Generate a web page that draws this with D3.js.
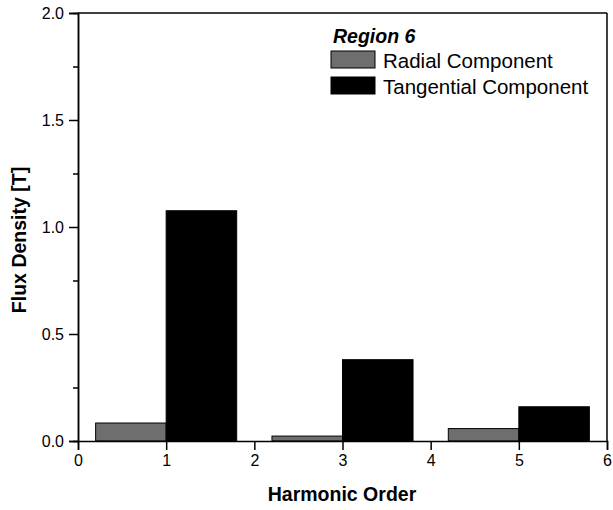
<!DOCTYPE html>
<html>
<head>
<meta charset="utf-8">
<script src="https://cdn.jsdelivr.net/npm/d3@7"></script>
<style>
  body { margin: 0; background: #fff; }
  text { font-family: Arial, "Liberation Sans", sans-serif; }
</style>
</head>
<body>
<div id="chart"></div>
<script>
var harmonics = [1, 3, 5];
var radial = [0.084, 0.023, 0.058];
var tangential = [1.076, 0.380, 0.160];
var xTicks = [0, 1, 2, 3, 4, 5, 6];
var yTicks = [0, 0.5, 1.0, 1.5, 2.0];
var yMinor = [0.25, 0.75, 1.25, 1.75];

var width = 613, height = 510;
var margin = {top: 13, right: 6, bottom: 69, left: 78};
var w = width - margin.left - margin.right,
    h = height - margin.top - margin.bottom;

var svg = d3.select("#chart").append("svg")
    .attr("width", width)
    .attr("height", height);

var g = svg.append("g")
    .attr("transform", "translate(" + margin.left + "," + margin.top + ")");

var x = d3.scaleLinear().domain([0, 6]).range([0, w]);
var y = d3.scaleLinear().domain([0, 2]).range([h, 0]);

var barW = 0.8;

// radial bars sit left of the harmonic, tangential right of it
g.selectAll("rect.radial")
    .data(harmonics)
  .enter().append("rect")
    .attr("class", "radial")
    .attr("x", function(d) { return x(d - barW); })
    .attr("width", function(d) { return x(d) - x(d - barW); })
    .attr("y", function(d, i) { return y(radial[i]); })
    .attr("height", function(d, i) { return y(0) - y(radial[i]); })
    .style("fill", "#6e6e6e")
    .style("stroke", "#000")
    .style("stroke-width", 1);

g.selectAll("rect.tang")
    .data(harmonics)
  .enter().append("rect")
    .attr("class", "tang")
    .attr("x", function(d) { return x(d); })
    .attr("width", function(d) { return x(d + barW) - x(d); })
    .attr("y", function(d, i) { return y(tangential[i]); })
    .attr("height", function(d, i) { return y(0) - y(tangential[i]); })
    .style("fill", "#000")
    .style("stroke", "#000")
    .style("stroke-width", 1);

// axes
var xAxis = g.append("g")
    .attr("transform", "translate(0," + h + ")")
    .call(d3.axisBottom(x).tickValues(xTicks).tickFormat(d3.format("d")).tickSize(9).tickPadding(5));

var yAxis = g.append("g")
    .call(d3.axisLeft(y).tickValues(yTicks).tickFormat(d3.format(".1f")).tickSize(9).tickPadding(5));

g.append("g")
    .call(d3.axisLeft(y).tickValues(yMinor).tickFormat("").tickSize(5));

[xAxis, yAxis].forEach(function(a) {
  a.selectAll("text").style("font-size", "16px").style("fill", "#000");
});
g.selectAll(".domain, .tick line").style("stroke", "#000").style("stroke-width", 1.5);

// frame top and right
g.append("line").attr("x1", 0).attr("x2", w).attr("y1", 0).attr("y2", 0)
    .style("stroke", "#000").style("stroke-width", 1.5);
g.append("line").attr("x1", w).attr("x2", w).attr("y1", 0).attr("y2", h)
    .style("stroke", "#000").style("stroke-width", 1.5);

// axis titles
svg.append("text")
    .attr("x", 342)
    .attr("y", 501)
    .attr("text-anchor", "middle")
    .style("font-size", "19.5px")
    .style("font-weight", "bold")
    .text("Harmonic Order");

svg.append("text")
    .attr("transform", "translate(26,240) rotate(-90)")
    .attr("text-anchor", "middle")
    .style("font-size", "19.5px")
    .style("font-weight", "bold")
    .text("Flux Density [T]");

// legend
var legend = svg.append("g").attr("transform", "translate(331,0)");
legend.append("text")
    .attr("x", 2).attr("y", 43)
    .style("font-size", "19.5px")
    .style("font-weight", "bold")
    .style("font-style", "italic")
    .text("Region 6");

var legendItems = [["Radial Component", "#6e6e6e"], ["Tangential Component", "#000"]];
legendItems.forEach(function(it, i) {
  var yy = 51 + i * 26;
  legend.append("rect")
      .attr("x", 0).attr("y", yy).attr("width", 44).attr("height", 17)
      .style("fill", it[1]).style("stroke", "#000").style("stroke-width", 1);
  legend.append("text")
      .attr("x", 52).attr("y", yy + 17)
      .style("font-size", "20.5px")
      .text(it[0]);
});
</script>
</body>
</html>
